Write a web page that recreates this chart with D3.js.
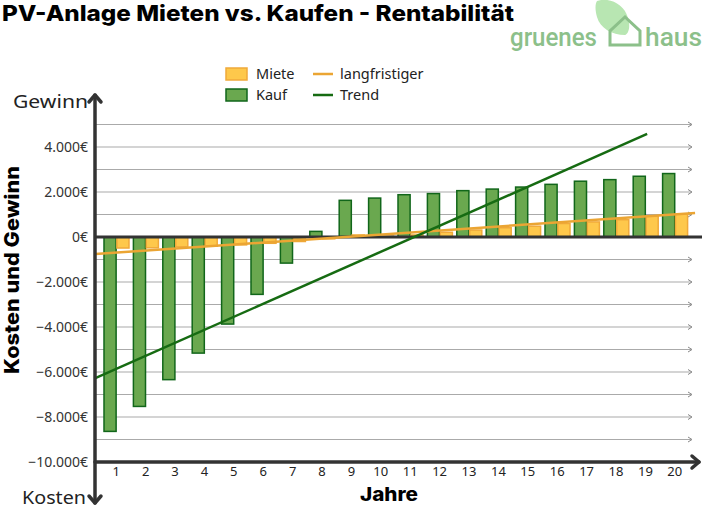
<!DOCTYPE html>
<html>
<head>
<meta charset="utf-8">
<script src="https://cdn.jsdelivr.net/npm/d3@7"></script>
<style>
    body { margin: 0; background: #fff; }
    text { font-family: "Noto Sans", sans-serif; }
</style>
</head>
<body>
<svg id="chart" width="702" height="515"></svg>
<script>
const years = d3.range(1, 21);
const kauf = [-8640, -7530, -6340, -5160, -3870, -2550, -1160, 250, 1630, 1730,
              1880, 1930, 2060, 2130, 2220, 2340, 2480, 2550, 2700, 2820];
const miete = [-490, -480, -440, -410, -350, -280, -200, -80, 90, 40,
               90, 210, 310, 410, 480, 600, 670, 770, 920, 1010];
// trend line endpoints, x given in year units
const trendKauf = [[0.29, -6270], [19.06, 4580]];
const trendMiete = [[0.29, -760], [20.69, 1070]];
const yTicks = [-10000, -8000, -6000, -4000, -2000, 0, 2000, 4000];
const gridValues = d3.range(-9000, 5001, 1000).filter(v => v !== 0);

const svg = d3.select("#chart");
const axisColor = "#333";
const gridColor = "#aaa";

const y = d3.scaleLinear().domain([-10000, 5000]).range([462, 124.5]);
const x = d3.scaleBand().domain(years).range([101.5, 689.5]);
const xs = d3.scaleBand().domain(["Kauf", "Miete"]).range([2.5, 27.5]).paddingInner(0.06);
const xl = d3.scaleLinear().domain([1, 20])
    .range([x(1) + x.bandwidth() / 2, x(20) + x.bandwidth() / 2]);

const fmt = d3.formatLocale({ decimal: ",", thousands: ".", grouping: [3], currency: ["", "€"] })
    .format(",.0f");

// title
svg.append("text")
    .attr("x", 2).attr("y", 21)
    .attr("textLength", 512).attr("lengthAdjust", "spacingAndGlyphs")
    .style("font-family", "Inter, sans-serif")
    .style("font-weight", 800)
    .style("font-size", "22px")
    .attr("fill", "#000")
    .text("PV-Anlage Mieten vs. Kaufen - Rentabilität");

// logo
const logo = svg.append("g");
logo.append("path")
    .attr("d", "M597,1 C608,-3 624,3 628,18 C631,28 628,34 625,35 C612,35 600,28 597,17 C595,10 595,4 597,1 Z")
    .attr("fill", "#b8e6b2");
logo.append("path")
    .attr("d", "M610,45 L610,31 L625,17 L640,31 L640,45 Z")
    .attr("fill", "none")
    .attr("stroke", "#8cc08a")
    .attr("stroke-width", 3)
    .attr("stroke-linejoin", "miter");
logo.append("text")
    .attr("x", 510).attr("y", 46)
    .attr("textLength", 87).attr("lengthAdjust", "spacingAndGlyphs")
    .style("font-family", "Roboto, sans-serif")
    .style("font-weight", 500)
    .style("font-size", "25px")
    .attr("fill", "#8cc08a")
    .text("gruenes");
logo.append("text")
    .attr("x", 645).attr("y", 46)
    .attr("textLength", 57).attr("lengthAdjust", "spacingAndGlyphs")
    .style("font-family", "Roboto, sans-serif")
    .style("font-weight", 500)
    .style("font-size", "25px")
    .attr("fill", "#8cc08a")
    .text("haus");

// gridlines with small arrow tips
const grid = svg.append("g");
gridValues.forEach(v => {
    grid.append("line")
        .attr("x1", 96).attr("x2", 691)
        .attr("y1", y(v)).attr("y2", y(v))
        .attr("stroke", gridColor).attr("stroke-width", 1.2);
    grid.append("path")
        .attr("d", `M688,${y(v) - 2.5} L692,${y(v)} L688,${y(v) + 2.5}`)
        .attr("fill", "none").attr("stroke", "#888").attr("stroke-width", 1);
});

// bars
const bars = svg.append("g");
bars.selectAll(".kauf")
    .data(years)
    .join("rect")
    .attr("class", "kauf")
    .attr("x", (d, i) => x(d) + xs("Kauf"))
    .attr("width", xs.bandwidth())
    .attr("y", (d, i) => y(Math.max(0, kauf[i])))
    .attr("height", (d, i) => Math.abs(y(kauf[i]) - y(0)))
    .attr("fill", "#6aa84f")
    .attr("stroke", "#11661a")
    .attr("stroke-width", 1.5);

bars.selectAll(".miete")
    .data(years)
    .join("rect")
    .attr("class", "miete")
    .attr("x", (d, i) => x(d) + xs("Miete"))
    .attr("width", xs.bandwidth())
    .attr("y", (d, i) => y(Math.max(0, miete[i])))
    .attr("height", (d, i) => Math.abs(y(miete[i]) - y(0)))
    .attr("fill", "#fec84b")
    .attr("stroke", "#f0a93a")
    .attr("stroke-width", 1.5);

// zero line
svg.append("line")
    .attr("x1", 95).attr("x2", 702)
    .attr("y1", y(0)).attr("y2", y(0))
    .attr("stroke", axisColor).attr("stroke-width", 3);

// trend lines
const line = d3.line().x(d => xl(d[0])).y(d => y(d[1]));
svg.append("path")
    .attr("d", line(trendMiete))
    .attr("fill", "none").attr("stroke", "#eba533").attr("stroke-width", 2.5);
svg.append("path")
    .attr("d", line(trendKauf))
    .attr("fill", "none").attr("stroke", "#166b12").attr("stroke-width", 2.5);

// axes lines with arrows
const ax = svg.append("g")
    .attr("fill", "none").attr("stroke", axisColor)
    .attr("stroke-width", 3.5).attr("stroke-linecap", "round").attr("stroke-linejoin", "round");
ax.append("line").attr("x1", 95).attr("x2", 95).attr("y1", 95).attr("y2", 503);
ax.append("path").attr("d", "M89,102 L95,95 L101,102");
ax.append("path").attr("d", "M89,496 L95,503 L101,496");
ax.append("line").attr("x1", 95).attr("x2", 699).attr("y1", y(-10000)).attr("y2", y(-10000));
ax.append("path").attr("d", `M692,${y(-10000) - 6} L699,${y(-10000)} L692,${y(-10000) + 6}`);

// y tick labels
svg.append("g")
    .attr("transform", "translate(95,0)")
    .call(d3.axisLeft(y).tickValues(yTicks).tickSize(0).tickPadding(7)
        .tickFormat(d => fmt(d) + "€"))
    .call(g => g.select(".domain").remove())
    .selectAll("text")
    .style("font-family", "'Noto Sans', sans-serif")
    .style("font-size", "14px")
    .attr("fill", "#333");

// x tick labels
svg.append("g")
    .attr("transform", `translate(0,${y(-10000)})`)
    .call(d3.axisBottom(x).tickSize(0).tickPadding(5))
    .call(g => g.select(".domain").remove())
    .selectAll("text")
    .style("font-family", "'Noto Sans', sans-serif")
    .style("font-size", "13px")
    .attr("fill", "#222");

// axis end labels and titles
svg.append("text").attr("x", 13).attr("y", 108)
    .attr("textLength", 75).attr("lengthAdjust", "spacingAndGlyphs")
    .style("font-size", "18px").attr("fill", "#222").text("Gewinn");
svg.append("text").attr("x", 22).attr("y", 504)
    .attr("textLength", 64).attr("lengthAdjust", "spacingAndGlyphs")
    .style("font-size", "18px").attr("fill", "#222").text("Kosten");
svg.append("text")
    .attr("transform", "translate(19,270) rotate(-90)")
    .attr("text-anchor", "middle")
    .attr("textLength", 208).attr("lengthAdjust", "spacingAndGlyphs")
    .style("font-family", "Inter, sans-serif")
    .style("font-weight", 800).style("font-size", "20px").attr("fill", "#000")
    .text("Kosten und Gewinn");
svg.append("text")
    .attr("x", 389).attr("y", 501).attr("text-anchor", "middle")
    .attr("textLength", 58).attr("lengthAdjust", "spacingAndGlyphs")
    .style("font-family", "Inter, sans-serif")
    .style("font-weight", 800).style("font-size", "19px").attr("fill", "#000")
    .text("Jahre");

// legend
const lg = svg.append("g").style("font-size", "14.5px").attr("fill", "#222");
lg.append("rect").attr("x", 226).attr("y", 68).attr("width", 21).attr("height", 12)
    .attr("fill", "#fec84b").attr("stroke", "#f0a93a").attr("stroke-width", 1.5);
lg.append("rect").attr("x", 226).attr("y", 89).attr("width", 21).attr("height", 12)
    .attr("fill", "#6aa84f").attr("stroke", "#11661a").attr("stroke-width", 1.5);
lg.append("text").attr("x", 256).attr("y", 79).text("Miete");
lg.append("text").attr("x", 256).attr("y", 100).text("Kauf");
lg.append("line").attr("x1", 313).attr("x2", 333).attr("y1", 74).attr("y2", 74)
    .attr("stroke", "#eba533").attr("stroke-width", 2.5);
lg.append("line").attr("x1", 313).attr("x2", 333).attr("y1", 95).attr("y2", 95)
    .attr("stroke", "#166b12").attr("stroke-width", 2.5);
lg.append("text").attr("x", 340).attr("y", 79).text("langfristiger");
lg.append("text").attr("x", 340).attr("y", 100).text("Trend");
</script>
</body>
</html>
